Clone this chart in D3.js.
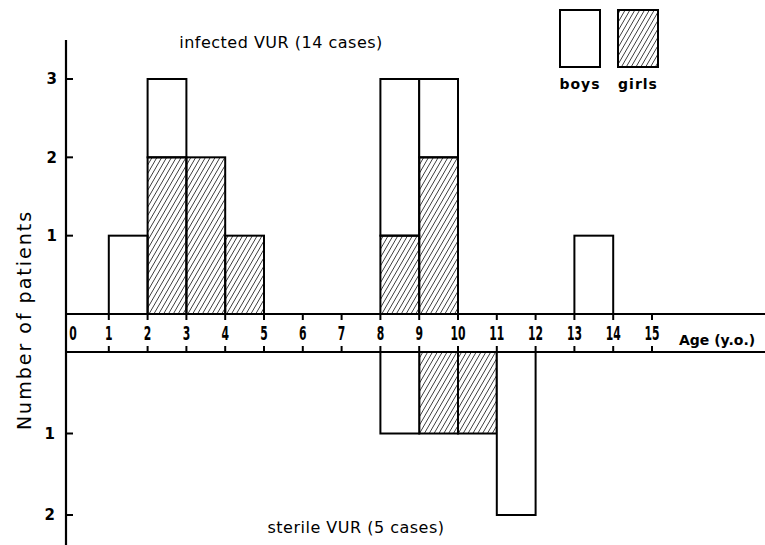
<!DOCTYPE html>
<html>
<head>
<meta charset="utf-8">
<script src="https://cdn.jsdelivr.net/npm/d3@7"></script>
<style>
  body { margin: 0; background: #fff; }
  text { font-family: "DejaVu Sans", sans-serif; fill: #000; }
</style>
</head>
<body>
<div id="chart"></div>
<script>
// bins start at the given age, one year wide
const infectedAges = [1, 2, 3, 4, 8, 9, 13];
const infectedBoys = [1, 1, 0, 0, 2, 1, 1];
const infectedGirls = [0, 2, 2, 1, 1, 2, 0];

const sterileAges = [8, 9, 10, 11];
const sterileBoys = [1, 0, 0, 2];
const sterileGirls = [0, 1, 1, 0];

const ageTicks = d3.range(0, 16);
const upTicks = [1, 2, 3];
const downTicks = [1, 2];

const width = 765,
      height = 545;

const svg = d3.select("#chart")
  .append("svg")
    .attr("width", width)
    .attr("height", height);

const defs = svg.append("defs");
defs.append("pattern")
    .attr("id", "hatch")
    .attr("patternUnits", "userSpaceOnUse")
    .attr("width", 4.2)
    .attr("height", 4.2)
    .attr("patternTransform", "rotate(30)")
  .append("line")
    .attr("x1", 0).attr("y1", 0)
    .attr("x2", 0).attr("y2", 4.2)
    .attr("stroke", "#000")
    .attr("stroke-width", 1.3);

const x = d3.scaleLinear()
    .domain([0, 15])
    .range([70, 652]);

const bandTop = 314,
      bandBottom = 352,
      axisX = 66;

const yUp = d3.scaleLinear()
    .domain([0, 3])
    .range([bandTop, 79]);

const yDown = d3.scaleLinear()
    .domain([0, 2])
    .range([bandBottom, 515]);

const upData = infectedAges.map((a, i) => ({ age: a, boys: infectedBoys[i], girls: infectedGirls[i] }));
const downData = sterileAges.map((a, i) => ({ age: a, boys: sterileBoys[i], girls: sterileGirls[i] }));

// upper bars (girls at the bottom, boys stacked on top)
const up = svg.append("g");
up.selectAll(".boys")
  .data(upData.filter(d => d.boys > 0))
  .enter().append("rect")
    .attr("x", d => x(d.age))
    .attr("width", d => x(d.age + 1) - x(d.age))
    .attr("y", d => yUp(d.girls + d.boys))
    .attr("height", d => yUp(d.girls) - yUp(d.girls + d.boys))
    .attr("fill", "#fff")
    .attr("stroke", "#000")
    .attr("stroke-width", 2);

up.selectAll(".girls")
  .data(upData.filter(d => d.girls > 0))
  .enter().append("rect")
    .attr("x", d => x(d.age))
    .attr("width", d => x(d.age + 1) - x(d.age))
    .attr("y", d => yUp(d.girls))
    .attr("height", d => yUp(0) - yUp(d.girls))
    .attr("fill", "url(#hatch)")
    .attr("stroke", "#000")
    .attr("stroke-width", 2);

// lower bars
const down = svg.append("g");
down.selectAll(".girls")
  .data(downData.filter(d => d.girls > 0))
  .enter().append("rect")
    .attr("x", d => x(d.age))
    .attr("width", d => x(d.age + 1) - x(d.age))
    .attr("y", yDown(0))
    .attr("height", d => yDown(d.girls) - yDown(0))
    .attr("fill", "url(#hatch)")
    .attr("stroke", "#000")
    .attr("stroke-width", 2);

down.selectAll(".boys")
  .data(downData.filter(d => d.boys > 0))
  .enter().append("rect")
    .attr("x", d => x(d.age))
    .attr("width", d => x(d.age + 1) - x(d.age))
    .attr("y", d => yDown(d.girls))
    .attr("height", d => yDown(d.girls + d.boys) - yDown(d.girls))
    .attr("fill", "#fff")
    .attr("stroke", "#000")
    .attr("stroke-width", 2);

// age band
const band = svg.append("g");
band.append("rect")
    .attr("x", axisX)
    .attr("y", bandTop)
    .attr("width", width - axisX)
    .attr("height", bandBottom - bandTop)
    .attr("fill", "#fff")
    .attr("stroke", "none");
band.append("line")
    .attr("x1", axisX).attr("x2", width)
    .attr("y1", bandTop).attr("y2", bandTop)
    .attr("stroke", "#000").attr("stroke-width", 2.2);
band.append("line")
    .attr("x1", axisX).attr("x2", width)
    .attr("y1", bandBottom).attr("y2", bandBottom)
    .attr("stroke", "#000").attr("stroke-width", 2.2);

const ageTick = band.selectAll(".age")
  .data(ageTicks.filter(d => d > 0))
  .enter().append("g");
ageTick.append("line")
    .attr("x1", d => x(d)).attr("x2", d => x(d))
    .attr("y1", bandTop).attr("y2", bandTop + 6)
    .attr("stroke", "#000").attr("stroke-width", 2);
ageTick.append("line")
    .attr("x1", d => x(d)).attr("x2", d => x(d))
    .attr("y1", bandBottom - 6).attr("y2", bandBottom)
    .attr("stroke", "#000").attr("stroke-width", 2);

const midBand = (bandTop + bandBottom) / 2;
band.selectAll(".agelabel")
  .data(ageTicks)
  .enter().append("text")
    .attr("transform", d => `translate(${d === 0 ? x(0) + 3 : x(d)},${midBand}) scale(0.72,1.25)`)
    .attr("dy", "0.36em")
    .attr("text-anchor", "middle")
    .attr("font-weight", "bold")
    .style("font-size", "15px")
    .text(d => d);

band.append("text")
    .attr("x", 679)
    .attr("y", 345)
    .attr("font-weight", "bold")
    .style("font-size", "14px")
    .text("Age (y.o.)");

// y axis
svg.append("line")
    .attr("x1", axisX).attr("x2", axisX)
    .attr("y1", 40).attr("y2", height)
    .attr("stroke", "#000").attr("stroke-width", 2.2);

const upAxis = svg.append("g").selectAll("g")
  .data(upTicks)
  .enter().append("g");
upAxis.append("line")
    .attr("x1", axisX).attr("x2", axisX + 7)
    .attr("y1", d => yUp(d)).attr("y2", d => yUp(d))
    .attr("stroke", "#000").attr("stroke-width", 2);
upAxis.append("text")
    .attr("x", axisX - 9)
    .attr("y", d => yUp(d))
    .attr("dy", "0.36em")
    .attr("text-anchor", "end")
    .attr("font-weight", "bold")
    .style("font-size", "15px")
    .text(d => d);

const downAxis = svg.append("g").selectAll("g")
  .data(downTicks)
  .enter().append("g");
downAxis.append("line")
    .attr("x1", axisX).attr("x2", axisX + 7)
    .attr("y1", d => yDown(d)).attr("y2", d => yDown(d))
    .attr("stroke", "#000").attr("stroke-width", 2);
downAxis.append("text")
    .attr("x", axisX - 11)
    .attr("y", d => yDown(d))
    .attr("dy", "0.36em")
    .attr("text-anchor", "end")
    .attr("font-weight", "bold")
    .style("font-size", "15px")
    .text(d => d);

svg.append("text")
    .attr("transform", "translate(24,320) rotate(-90)")
    .attr("text-anchor", "middle")
    .attr("dy", "0.36em")
    .style("font-size", "19px")
    .style("letter-spacing", "2px")
    .text("Number of patients");

// titles
svg.append("text")
    .attr("x", 281)
    .attr("y", 48)
    .attr("text-anchor", "middle")
    .style("font-size", "16px")
    .style("letter-spacing", "0.5px")
    .text("infected VUR (14 cases)");

svg.append("text")
    .attr("x", 356)
    .attr("y", 533)
    .attr("text-anchor", "middle")
    .style("font-size", "16px")
    .style("letter-spacing", "0.5px")
    .text("sterile VUR (5 cases)");

// legend
const legend = svg.append("g");
const legendItems = [
  { label: "boys", fill: "#fff", x: 560 },
  { label: "girls", fill: "url(#hatch)", x: 618 }
];
legend.selectAll("rect")
  .data(legendItems)
  .enter().append("rect")
    .attr("x", d => d.x)
    .attr("y", 10)
    .attr("width", 40)
    .attr("height", 57)
    .attr("fill", d => d.fill)
    .attr("stroke", "#000")
    .attr("stroke-width", 2);
legend.selectAll("text")
  .data(legendItems)
  .enter().append("text")
    .attr("x", d => d.x + 20)
    .attr("y", 89)
    .attr("text-anchor", "middle")
    .attr("font-weight", "bold")
    .style("font-size", "14px")
    .style("letter-spacing", "1px")
    .text(d => d.label);
</script>
</body>
</html>
